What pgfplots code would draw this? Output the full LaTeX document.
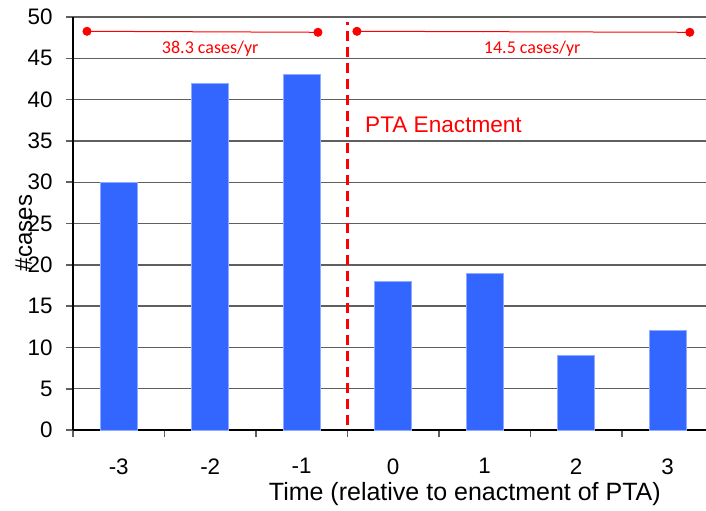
\documentclass[border=0pt]{standalone}
\usepackage{fontspec}
\setmainfont{Liberation Sans}
\newfontfamily\calib{Carlito}
\usepackage{pgfplots}
\pgfplotsset{compat=1.18}

\definecolor{barblue}{RGB}{51,102,255}
\definecolor{gridgray}{RGB}{95,95,95}

\begin{document}
\begin{tikzpicture}
\begin{axis}[
  scale only axis,
  width=316.5pt, height=206.5pt,
  xmin=-3.5, xmax=3.42,
  ymin=0, ymax=50,
  axis lines*=left,
  axis line style={black, line width=1pt},
  ytick={0,5,...,50},
  ymajorgrids,
  major grid style={gridgray, line width=0.7pt},
  xtick={-3,...,3},
  xticklabels={-3,-2,-1,0,1,2,3},
  minor xtick={-3.5,-2.5,...,2.5},
  major x tick style={draw=none},
  minor x tick style={gridgray, line width=0.8pt},
  major y tick style={gridgray, line width=0.8pt},
  tick align=outside,
  major tick length=3.5pt,
  minor tick length=3.5pt,
  /pgf/number format/assume math mode=true,
  tick label style={font=\fontsize{11.2}{13}\selectfont},
  yticklabel style={anchor=east, inner sep=0pt, xshift=-6.5pt},
  xticklabel style={anchor=north, inner sep=0pt, yshift=-10.5pt},
  clip=false,
]
% yearly case counts
\addplot[ybar, bar width=18.5pt, fill=barblue, draw=barblue!55!white, line width=0.4pt]
  coordinates {(-3,30) (-2,42) (-1,43) (0,18) (1,19) (2,9) (3,12)};

% enactment marker
\addplot[red, line width=1.3pt, dash pattern=on 5pt off 3pt]
  coordinates {(-0.5,0.6) (-0.5,49.4)};

% averaging periods
\addplot[red, line width=0.5pt, mark=*, mark size=2pt]
  coordinates {(-3.347,48.27) (-0.822,48.15)};
\addplot[red, line width=0.5pt, mark=*, mark size=2pt]
  coordinates {(-0.396,48.27) (3.243,48.15)};

\node[red, anchor=base, inner sep=0pt, font=\calib\fontsize{9}{11}\selectfont]
  at (axis cs:-2.0,45.6) {38.3 cases/yr};
\node[red, anchor=base, inner sep=0pt, font=\calib\fontsize{9}{11}\selectfont]
  at (axis cs:1.52,45.6) {14.5 cases/yr};
\node[red, anchor=base west, inner sep=0pt, font=\fontsize{11.3}{13}\selectfont]
  at (axis cs:-0.31,35.96) {PTA Enactment};

\node[rotate=90, anchor=base, inner sep=0pt, font=\fontsize{12}{14}\selectfont]
  at ([xshift=-20.5pt]rel axis cs:0,0.477) {\#cases};
\node[anchor=base, inner sep=0pt, font=\fontsize{12.5}{15}\selectfont]
  at ([yshift=-35pt]rel axis cs:0.619,0) {Time (relative to enactment of PTA)};
\end{axis}
\pgfresetboundingbox
\path (-36.5pt,-40pt) rectangle (316.5pt,215pt);
\end{tikzpicture}
\end{document}
